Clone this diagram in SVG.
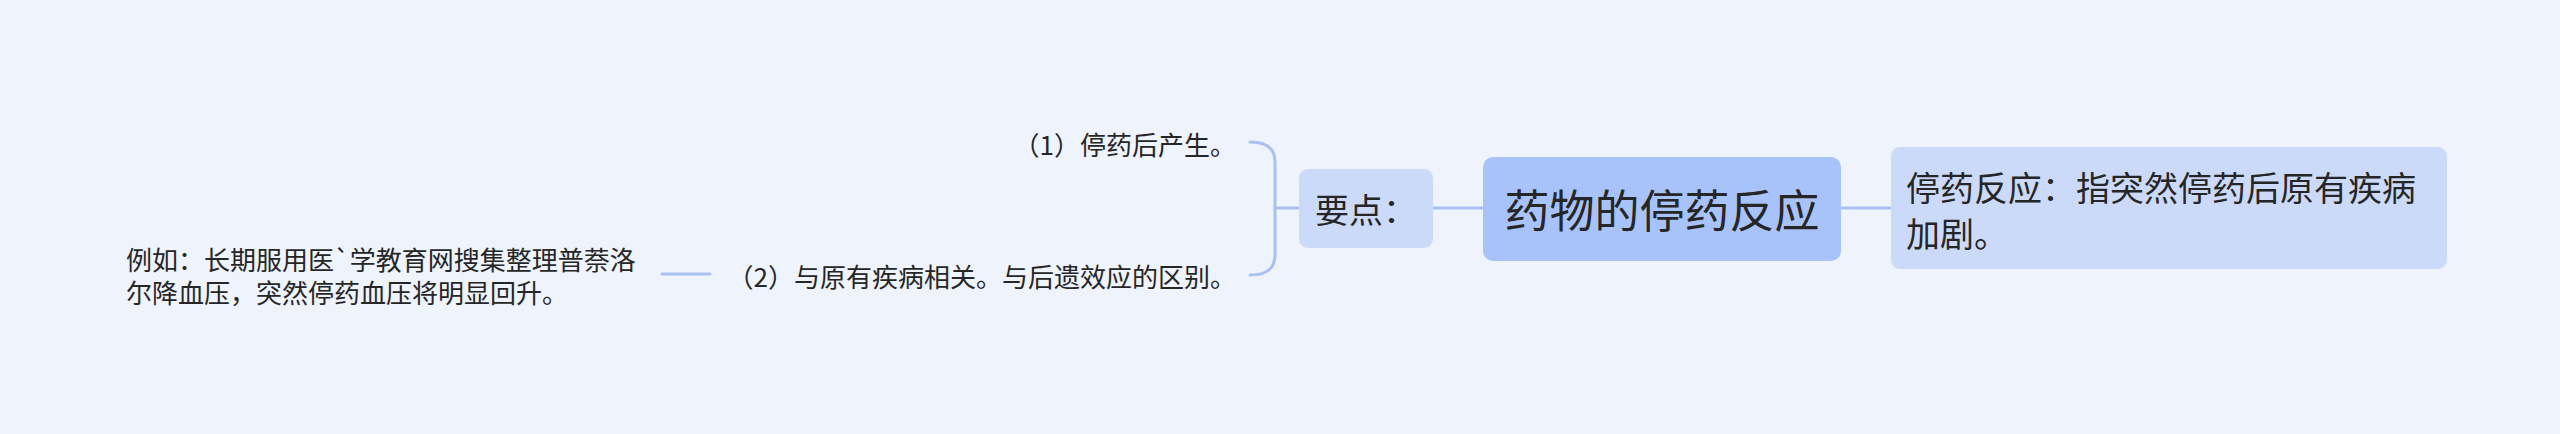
<svg xmlns="http://www.w3.org/2000/svg" width="2560" height="434" viewBox="0 0 2560 434">
<style>
text{font-family:"Noto Sans CJK SC","Noto Sans",sans-serif;fill:#262626;dominant-baseline:central}
.ln{fill:none;stroke:#a9c1f2;stroke-width:3;stroke-linecap:round}
.sub{fill:#ccdafa}
.s26{font-size:26px}
.s34{font-size:34px}
</style>
<rect width="2560" height="434" fill="#eff3fc"/>
<g id="connectors">
<path class="ln" d="M1841,208 L1891,208"/>
<path class="ln" d="M1433,208 L1483,208"/>
<path class="ln" d="M1299,208 L1275,208"/>
<path class="ln" d="M1250,142 Q1275,142 1275,162 L1275,255 Q1275,275 1250,275"/>
<path class="ln" d="M662,274 L710,274"/>
</g>
<g id="root">
<rect x="1483" y="157" width="358" height="104" rx="10" fill="#a8c3fa"/>
<text x="1662" y="208" font-size="45" text-anchor="middle">药物的停药反应</text>
</g>
<g id="definition">
<rect class="sub" x="1891" y="147" width="556" height="122" rx="9"/>
<text class="s34" x="1906" y="186">停药反应：指突然停药后原有疾病</text>
<text class="s34" x="1906" y="232">加剧。</text>
</g>
<g id="keypoints">
<rect class="sub" x="1299" y="169" width="134" height="79" rx="9"/>
<text class="s34" x="1315" y="208">要点：</text>
</g>
<g id="point1">
<text class="s26" x="1236" y="143" text-anchor="end">（1）停药后产生。</text>
</g>
<g id="point2">
<text class="s26" x="1236" y="275" text-anchor="end">（2）与原有疾病相关。与后遗效应的区别。</text>
</g>
<g id="example">
<text class="s26" x="126" y="258">例如：长期服用医`学教育网搜集整理普萘洛</text>
<text class="s26" x="126" y="291">尔降血压，突然停药血压将明显回升。</text>
</g>
</svg>
